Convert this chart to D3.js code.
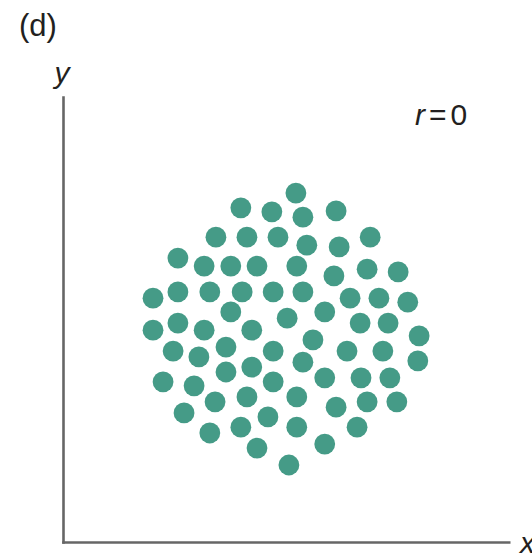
<!DOCTYPE html>
<html>
<head>
<meta charset="utf-8">
<script src="https://cdn.jsdelivr.net/npm/d3@7/dist/d3.min.js"></script>
<style>
  html, body { margin: 0; padding: 0; background: #fff; }
  svg { display: block; }
  text { font-family: "Liberation Sans", Arial, sans-serif; fill: #231f20; }
</style>
</head>
<body>
<svg id="chart" width="532" height="555"></svg>
<script>
// Scatter of uncorrelated points (r = 0)
const xValues = [
  5.33, 4.07, 4.78, 5.49, 6.25, 3.50, 4.21, 4.92, 5.58, 6.32,
  7.03, 2.63, 3.23, 3.84, 4.44, 5.35, 6.20, 6.96, 7.67, 2.06,
  2.63, 3.36, 4.10, 4.81, 5.49, 6.57, 7.23, 7.89, 3.84, 5.13,
  5.99, 6.80, 7.44, 2.06, 2.63, 3.23, 4.32, 8.15, 5.72, 2.52,
  3.11, 3.73, 4.81, 6.50, 7.32, 8.12, 5.49, 3.73, 4.32, 4.81,
  2.29, 3.00, 5.99, 6.82, 7.48, 3.48, 4.21, 5.35, 6.25, 6.96,
  7.64, 2.77, 4.69, 3.36, 4.07, 5.35, 6.73, 4.44, 5.99, 5.17
];
const yValues = [
  7.84, 7.51, 7.42, 7.30, 7.44, 6.85, 6.85, 6.85, 6.67, 6.63,
  6.85, 6.38, 6.20, 6.20, 6.20, 6.20, 5.98, 6.13, 6.07, 5.48,
  5.62, 5.62, 5.62, 5.62, 5.62, 5.48, 5.48, 5.39, 5.17, 5.03,
  5.17, 4.92, 4.92, 4.76, 4.92, 4.76, 4.76, 4.63, 4.54, 4.29,
  4.16, 4.38, 4.29, 4.29, 4.29, 4.07, 4.04, 3.82, 3.93, 3.60,
  3.60, 3.51, 3.69, 3.69, 3.69, 3.15, 3.26, 3.26, 3.03, 3.15,
  3.15, 2.90, 2.81, 2.45, 2.58, 2.58, 2.58, 2.11, 2.20, 1.73
];
const panelLabel = "(d)";
const xAxisLabel = "x";
const yAxisLabel = "y";
const statSymbol = "r";
const statValue = "0";

const points = xValues.map((x, i) => ({ x, y: yValues[i] }));

const svg = d3.select("#chart");

const x = d3.scaleLinear().domain([0, 10.2]).range([63, 508.7]);
const y = d3.scaleLinear().domain([0, 10]).range([542, 97]);

const axisColor = "#666666";

// Axes: bare lines with no ticks
const gx = svg.append("g")
  .attr("transform", `translate(0,${y(0)})`)
  .call(d3.axisBottom(x).tickValues([]).tickSizeOuter(0));
const gy = svg.append("g")
  .attr("transform", `translate(${x(0)},0)`)
  .call(d3.axisLeft(y).tickValues([]).tickSizeOuter(0));
[gx, gy].forEach(g => g.select(".domain")
  .attr("stroke", axisColor)
  .attr("stroke-width", 2.6)
  .attr("stroke-linecap", "square"));

// Points
svg.append("g")
  .selectAll("circle")
  .data(points)
  .join("circle")
  .attr("cx", d => x(d.x))
  .attr("cy", d => y(d.y))
  .attr("r", 10.4)
  .attr("fill", "#459b87");

// Labels
svg.append("text")
  .attr("x", 19).attr("y", 36)
  .attr("font-size", 31)
  .text(panelLabel);

svg.append("text")
  .attr("x", x(0) - 1).attr("y", 83)
  .attr("text-anchor", "middle")
  .attr("font-size", 30)
  .attr("font-style", "italic")
  .text(yAxisLabel);

svg.append("text")
  .attr("x", 520).attr("y", 553)
  .attr("font-size", 30)
  .attr("font-style", "italic")
  .text(xAxisLabel);

const stat = svg.append("text")
  .attr("x", 415).attr("y", 125)
  .attr("font-size", 30);
stat.append("tspan").attr("font-style", "italic").text(statSymbol);
stat.append("tspan").attr("dx", 4).text("=");
stat.append("tspan").attr("dx", 4).text(statValue);
</script>
</body>
</html>
